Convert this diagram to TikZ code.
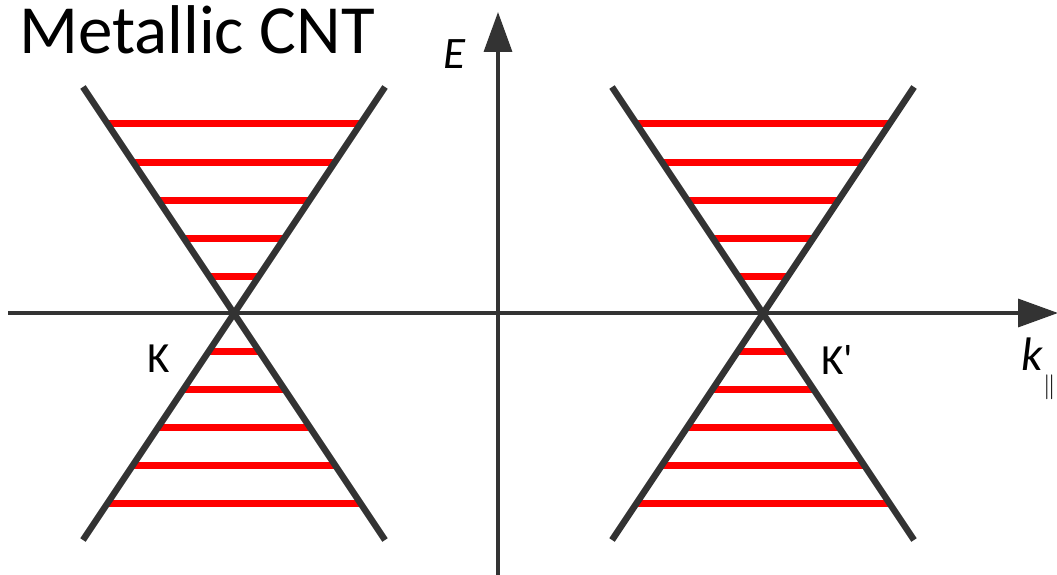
\documentclass[tikz,border=0pt]{standalone}
\usepackage{fontspec}
\setmainfont{Carlito}
\usetikzlibrary{arrows.meta}
\definecolor{axisgray}{HTML}{333333}
\definecolor{lvlred}{HTML}{FF0000}
\begin{document}
\begin{tikzpicture}[x=1pt,y=-1pt,
  axis/.style={draw=axisgray,line width=3.5pt,-{Triangle[length=40pt,width=28pt]}},
  cone/.style={draw=axisgray,line width=6.5pt},
  level/.style={draw=lvlred,line width=7pt},
  lbl/.style={inner sep=0pt,font=\fontsize{43}{43}\selectfont}]
\useasboundingbox (0,0) rectangle (1057,575);
% levels
\foreach \cx in {234,763}{
  \foreach \y in {124,162,200,238,276,351,389,427,465,503}{
    \pgfmathsetmacro{\d}{abs(313-\y)*0.66814}
    \draw[level] (\cx-\d,\y) -- (\cx+\d,\y);
  }
}
% axes
\coordinate (xs) at (8,313);
\coordinate (xe) at (1058,313);
\coordinate (ys) at (498,575);
\coordinate (ye) at (498,12);
\draw[axis] (xs) -- (xe);
\draw[axis] (ys) -- (ye);
% cones
\foreach \cx/\nm in {234/L,763/R}{
  \coordinate (\nm tl) at (\cx-151,87);
  \coordinate (\nm tr) at (\cx+151,87);
  \coordinate (\nm bl) at (\cx-151,540);
  \coordinate (\nm br) at (\cx+151,540);
  \draw[cone] (\nm tl) -- (\nm br);
  \draw[cone] (\nm tr) -- (\nm bl);
}
% labels
\node[inner sep=0pt,anchor=base west,font=\fontsize{69}{69}\selectfont] (title) at (19,54) {Metallic CNT};
\node[lbl,font=\fontsize{45}{45}\selectfont\itshape] (E) at (454,54) {E};
\node[lbl] (K) at (159,359) {K};
\node[lbl] (Kp) at (837,360) {K\textquotesingle};
\node[inner sep=0pt,anchor=base west,font=\fontsize{47}{47}\selectfont] (k) at (1021,370) {\textit{k}\raisebox{-0.5em}{\fontsize{27}{27}\selectfont$\|$}};
\end{tikzpicture}
\end{document}
